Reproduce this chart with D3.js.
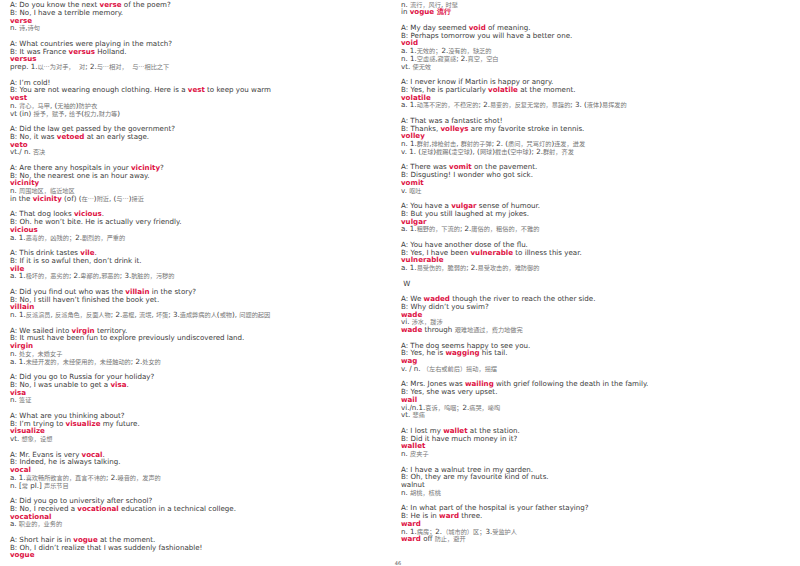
<!DOCTYPE html>
<html><head><meta charset="utf-8">
<script src="https://cdn.jsdelivr.net/npm/d3@7"></script>
<style>body{margin:0;background:#fff}</style></head>
<body><svg id="c" width="800" height="566"></svg>
<script>
const leftLines = [
"A: Do you know the next *verse* of the poem?","B: No, I have a terrible memory.","*verse*","n. 诗,诗句","",
"A: What countries were playing in the match?","B: It was France *versus* Holland.","*versus*","prep. 1.以…为对手，  对; 2.与…相对，  与…相比之下","",
"A: I’m cold!","B: You are not wearing enough clothing. Here is a *vest* to keep you warm","*vest*","n. 背心，马甲, (无袖的)防护衣","vt (in) 授予，赋予, 给予(权力,财力等)","",
"A: Did the law get passed by the government?","B: No, it was *vetoed* at an early stage.","*veto*","vt./ n. 否决","",
"A: Are there any hospitals in your *vicinity*?","B: No, the nearest one is an hour away.","*vicinity*","n. 周围地区，临近地区","in the *vicinity* (of) (在…)附近, (与…)接近","",
"A: That dog looks *vicious*.","B: Oh. he won’t bite. He is actually very friendly.","*vicious*","a. 1.恶毒的，凶残的；2.剧烈的，严重的","",
"A: This drink tastes *vile*.","B: If it is so awful then, don’t drink it.","*vile*","a. 1.极坏的，恶劣的; 2.卑鄙的,邪恶的; 3.肮脏的，污秽的","",
"A: Did you find out who was the *villain* in the story?","B: No, I still haven’t finished the book yet.","*villain*","n. 1.反派演员, 反派角色，反面人物; 2.恶棍, 流氓, 坏蛋; 3.造成弊病的人(或物), 问题的起因","",
"A: We sailed into *virgin* territory.","B: It must have been fun to explore previously undiscovered land.","*virgin*","n. 处女，未婚女子","a. 1.未经开发的，未经使用的，未经触动的; 2.处女的","",
"A: Did you go to Russia for your holiday?","B: No, I was unable to get a *visa*.","*visa*","n. 签证","",
"A: What are you thinking about?","B: I’m trying to *visualize* my future.","*visualize*","vt. 想象，设想","",
"A: Mr. Evans is very *vocal*.","B: Indeed, he is always talking.","*vocal*","a. 1.喜欢畅所欲言的，直言不讳的; 2.嗓音的，发声的","n. [常 pl.] 声乐节目","",
"A: Did you go to university after school?","B: No, I received a *vocational* education in a technical college.","*vocational*","a. 职业的，业务的","",
"A: Short hair is in *vogue* at the moment.","B: Oh, I didn’t realize that I was suddenly fashionable!","*vogue*"
];
const rightLines = [
"n. 流行，风行, 时髦","in *vogue 流行*","",
"A: My day seemed *void* of meaning.","B: Perhaps tomorrow you will have a better one.","*void*","a. 1.无效的；2.没有的，缺乏的","n. 1.空虚感,寂寞感; 2.真空，空白","vt. 使无效","",
"A: I never know if Martin is happy or angry.","B: Yes, he is particularly *volatile* at the moment.","*volatile*","a. 1.动荡不定的，不稳定的; 2.易变的，反复无常的，暴躁的; 3. (液体)易挥发的","",
"A: That was a fantastic shot!","B: Thanks, *volleys* are my favorite stroke in tennis.","*volley*","n. 1.群射,排枪射击, 群射的子弹; 2. (质问，咒骂灯的)连发，迸发","v. 1. (足球)截踢(凌空球), (网球)截击(空中球); 2.群射，齐发","",
"A: There was *vomit* on the pavement.","B: Disgusting! I wonder who got sick.","*vomit*","v. 呕吐","",
"A: You have a *vulgar* sense of humour.","B: But you still laughed at my jokes.","*vulgar*","a. 1.粗野的，下流的; 2.庸俗的，粗俗的，不雅的","",
"A: You have another dose of the flu.","B: Yes, I have been *vulnerable* to illness this year.","*vulnerable*","a. 1.易受伤的，脆弱的; 2.易受攻击的，难防御的","",
" W","",
"A: We *waded* though the river to reach the other side.","B: Why didn’t you swim?","*wade*","vi. 涉水，跋涉","*wade* through 艰难地通过，费力地做完","",
"A: The dog seems happy to see you.","B: Yes, he is *wagging* his tail.","*wag*","v. / n. （左右或前后）摇动，摇摆","",
"A: Mrs. Jones was *wailing* with grief following the death in the family.","B: Yes, she was very upset.","*wail*","vi./n.1.哀诉，呜咽；2.痛哭，嚎啕","vt. 悲痛","",
"A: I lost my *wallet* at the station.","B: Did it have much money in it?","*wallet*","n. 皮夹子","",
"A: I have a walnut tree in my garden.","B: Oh, they are my favourite kind of nuts.","walnut","n. 胡桃，核桃","",
"A: In what part of the hospital is your father staying?","B: He is in *ward* three.","*ward*","n. 1.病房；2.（城市的）区；3.受监护人","*ward* off 防止，避开"
];
const pageNumber = "46";

const svg = d3.select("#c");
const lineY = d3.scaleLinear().domain([0, 1]).range([7, 14.75]);
const cjkSplit = /([\u3000-\u9fff\uff00-\uffef…]+)/;
const cjkOnly = /^[\u3000-\u9fff\uff00-\uffef…]+$/;

function draw(lines, x0, yOff) {
  lines.forEach((ln, i) => {
    if (!ln) return;
    const t = svg.append("text").attr("x", x0).attr("y", lineY(i) + yOff)
      .attr("font-family", "Verdana, 'DejaVu Sans', sans-serif").attr("font-size", 7.1).attr("fill", "#3a3a3a")
      .attr("xml:space", "preserve");
    ln.split("*").forEach((part, k) => {
      const red = k % 2 === 1;
      part.split(cjkSplit).forEach(seg => {
        if (!seg) return;
        const isC = cjkOnly.test(seg);
        const s = t.append("tspan").text(seg);
        if (red) s.attr("fill", "#dd1144").attr("font-weight", "bold");
        else if (isC) s.attr("fill", "#777").attr("font-family", "'Noto Sans CJK SC', sans-serif").attr("font-size", 6.2);
      });
    });
  });
}
draw(leftLines, 10, 0);
draw(rightLines, 401, -0.5);
svg.append("text").attr("x", 398).attr("y", 565).attr("font-family", "'DejaVu Sans', sans-serif")
  .attr("font-size", 5).attr("fill", "#555").attr("text-anchor", "middle").text(pageNumber);
</script></body></html>
